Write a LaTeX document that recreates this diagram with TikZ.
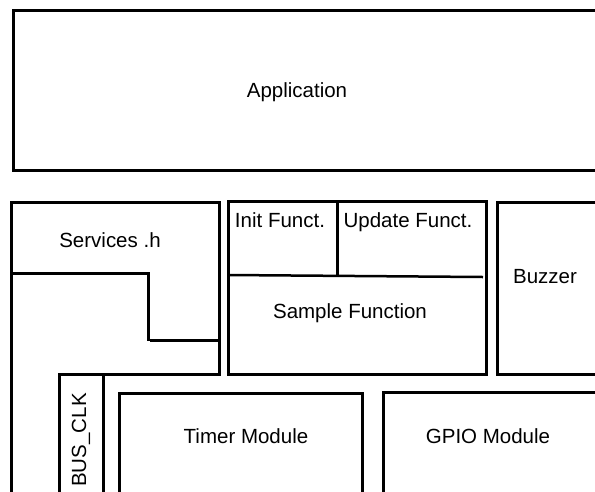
\documentclass[tikz,border=0pt]{standalone}
\usepackage{fontspec}
\setmainfont{Liberation Sans}
\begin{document}
\begin{tikzpicture}[x=1pt,y=-1pt,
  wall/.style={draw=black, line width=3pt},
  thin wall/.style={draw=black, line width=2.5pt},
  lbl/.style={font=\fontsize{20.5}{24}\selectfont, anchor=base, inner sep=0pt}]
\useasboundingbox (0,0) rectangle (595,491);
\clip (0,0) rectangle (595,491);
% Application
\draw[wall] (600,10) -- (13,10) -- (13,170) -- (600,170);
\node[lbl] (app) at (297,97) {Application};
% Services .h outer shape
\draw[wall] (11,495) -- (11,202) -- (219,202) -- (219,374) -- (59,374) -- (59,495);
\draw[wall] (103,374) -- (103,495);
\draw[wall] (11,273) -- (148,273) -- (148,341);
\draw[wall] (150,340) -- (219,340);
\node[lbl] (services) at (110,247) {Services .h};
\node[lbl, rotate=90] (busclk) at (86,440) {BUS\_CLK};
% Sample function block
\draw[wall] (228,201) rectangle (486,374);
\draw[thin wall] (228,275) -- (483,277);
\draw[wall] (337,201) -- (337,275);
\node[lbl] (init) at (280,227) {Init Funct.};
\node[lbl] (update) at (408,227) {Update Funct.};
\node[lbl] (sample) at (350,318) {Sample Function};
% Buzzer
\draw[wall] (600,202) -- (497,202) -- (497,374) -- (600,374);
\node[lbl] (buzzer) at (545,283) {Buzzer};
% Timer and GPIO
\draw[wall] (119,495) -- (119,393) -- (362,393) -- (362,495);
\node[lbl] (timer) at (246,443) {Timer Module};
\draw[wall] (383,495) -- (383,392) -- (600,392);
\node[lbl] (gpio) at (488,443) {GPIO Module};
\end{tikzpicture}
\end{document}
